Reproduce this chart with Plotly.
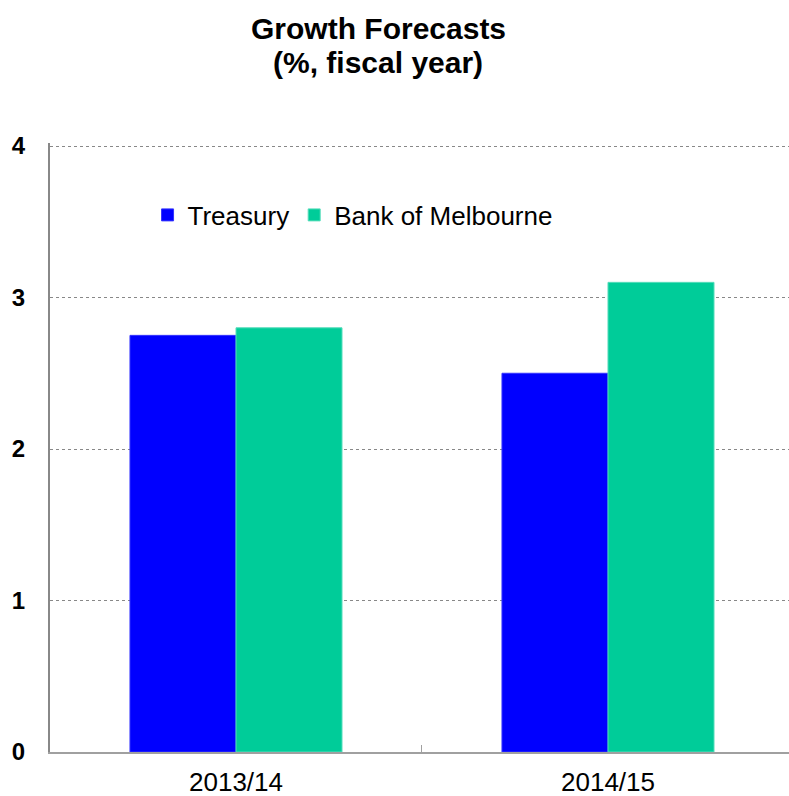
import plotly.graph_objects as go

# Fiscal years and forecast growth (%)
years = ["2013/14", "2014/15"]
treasury = [2.75, 2.5]
bank_of_melbourne = [2.8, 3.1]
y_ticks = [0, 1, 2, 3, 4]
title_lines = ["Growth Forecasts", "(%, fiscal year)"]

FONT = "Liberation Sans, Arial, sans-serif"

fig = go.Figure()
fig.add_trace(go.Bar(
    x=years, y=treasury, name="Treasury",
    marker=dict(color="#0000FF", line=dict(color="#3333FF", width=1)),
))
fig.add_trace(go.Bar(
    x=years, y=bank_of_melbourne, name="Bank of Melbourne",
    marker=dict(color="#00CC99", line=dict(color="#55DDBB", width=1)),
))

# Two-line bold title, centred above the plot
for text, ypos in zip(title_lines, [1.1888, 1.1330]):
    fig.add_annotation(
        text=f"<b>{text}</b>", xref="paper", yref="paper",
        x=0.4445, y=ypos, xanchor="center", yanchor="middle",
        showarrow=False, font=dict(size=30, family=FONT, color="black"),
    )

fig.update_layout(
    width=789, height=796,
    margin=dict(l=50, r=0, t=143, b=44),
    paper_bgcolor="white", plot_bgcolor="white",
    barmode="group", bargap=0.43, bargroupgap=0,
    font=dict(family=FONT, color="black"),
    showlegend=True,
    legend=dict(
        orientation="h", x=0.132, y=0.8818, xanchor="left", yanchor="middle",
        font=dict(size=26, family=FONT, color="black"),
        bgcolor="rgba(0,0,0,0)", itemwidth=30, tracegroupgap=0,
    ),
)

fig.update_xaxes(
    type="category", range=[-0.5, 1.4866],
    showline=True, linecolor="#A0A0A0", linewidth=2,
    tickson="boundaries", ticks="inside", ticklen=7, tickcolor="#A0A0A0",
    showgrid=False, tickfont=dict(size=26, family=FONT, color="black"),
    ticklabelstandoff=6,
)
fig.update_yaxes(
    range=[0, 4.0198], tickvals=y_ticks, ticktext=[f"<b>{v}</b>" for v in y_ticks],
    showline=True, linecolor="#888888", linewidth=2,
    showgrid=True, gridcolor="#888888", griddash="dot", gridwidth=1,
    zeroline=False, ticks="", tickfont=dict(size=24, family=FONT, color="black"),
    ticklabelstandoff=18,
)

fig.write_html("out.html")
